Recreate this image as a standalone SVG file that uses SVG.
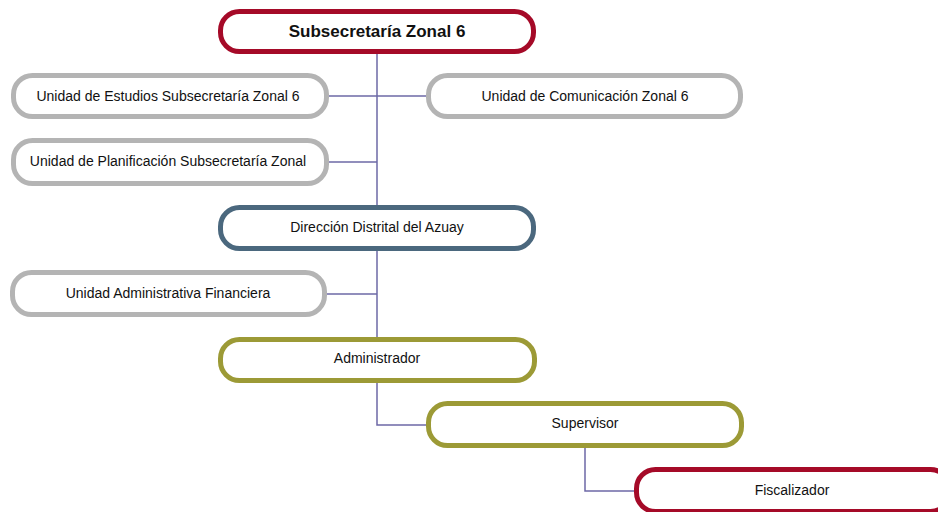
<svg xmlns="http://www.w3.org/2000/svg" width="938" height="512" viewBox="0 0 938 512">
<style>
.n{fill:#fff;stroke-width:5}
.red{stroke:#A50A28}
.gray{stroke:#B4B4B4}
.blue{stroke:#4B687E}
.olive{stroke:#9C9A36}
.t{font-family:"Liberation Sans",Arial,sans-serif;font-size:14px;fill:#111;text-anchor:middle;dominant-baseline:central}
.b{font-weight:bold;font-size:17px}
.c{fill:none;stroke:#6D68A6;stroke-width:1.5}
</style>
<rect width="938" height="512" fill="#fff"/>
<g id="connectors">
<path class="c" d="M377 52V339"/>
<path class="c" d="M328 96H428"/>
<path class="c" d="M328 162H377"/>
<path class="c" d="M326 294H377"/>
<path class="c" d="M377 382V425H427"/>
<path class="c" d="M585 448V491H636"/>
</g>
<g id="subsecretaria">
<rect class="n red" x="220.5" y="11.5" width="313" height="40" rx="19"/>
<text class="t b" x="377" y="31.5">Subsecretaría Zonal 6</text>
</g>
<g id="estudios">
<rect class="n gray" x="13.5" y="75.5" width="313" height="41" rx="19"/>
<text class="t" x="168" y="96">Unidad de Estudios Subsecretaría Zonal 6</text>
</g>
<g id="comunicacion">
<rect class="n gray" x="428.5" y="75.5" width="312" height="41" rx="19"/>
<text class="t" x="585" y="96">Unidad de Comunicación Zonal 6</text>
</g>
<g id="planificacion">
<rect class="n gray" x="13.5" y="140.5" width="313" height="43" rx="19"/>
<text class="t" x="168" y="161">Unidad de Planificación Subsecretaría Zonal</text>
</g>
<g id="direccion">
<rect class="n blue" x="220.5" y="207.5" width="313" height="41" rx="19"/>
<text class="t" x="377" y="227">Dirección Distrital del Azuay</text>
</g>
<g id="administrativa">
<rect class="n gray" x="12.5" y="272.5" width="312" height="42" rx="19"/>
<text class="t" x="168" y="293">Unidad Administrativa Financiera</text>
</g>
<g id="administrador">
<rect class="n olive" x="220.5" y="339.5" width="314" height="41" rx="19"/>
<text class="t" x="377" y="358">Administrador</text>
</g>
<g id="supervisor">
<rect class="n olive" x="428.5" y="403.5" width="313" height="42" rx="19"/>
<text class="t" x="585" y="423">Supervisor</text>
</g>
<g id="fiscalizador">
<rect class="n red" x="636.5" y="469.5" width="313" height="42" rx="19"/>
<text class="t" x="792" y="490">Fiscalizador</text>
</g>
</svg>
